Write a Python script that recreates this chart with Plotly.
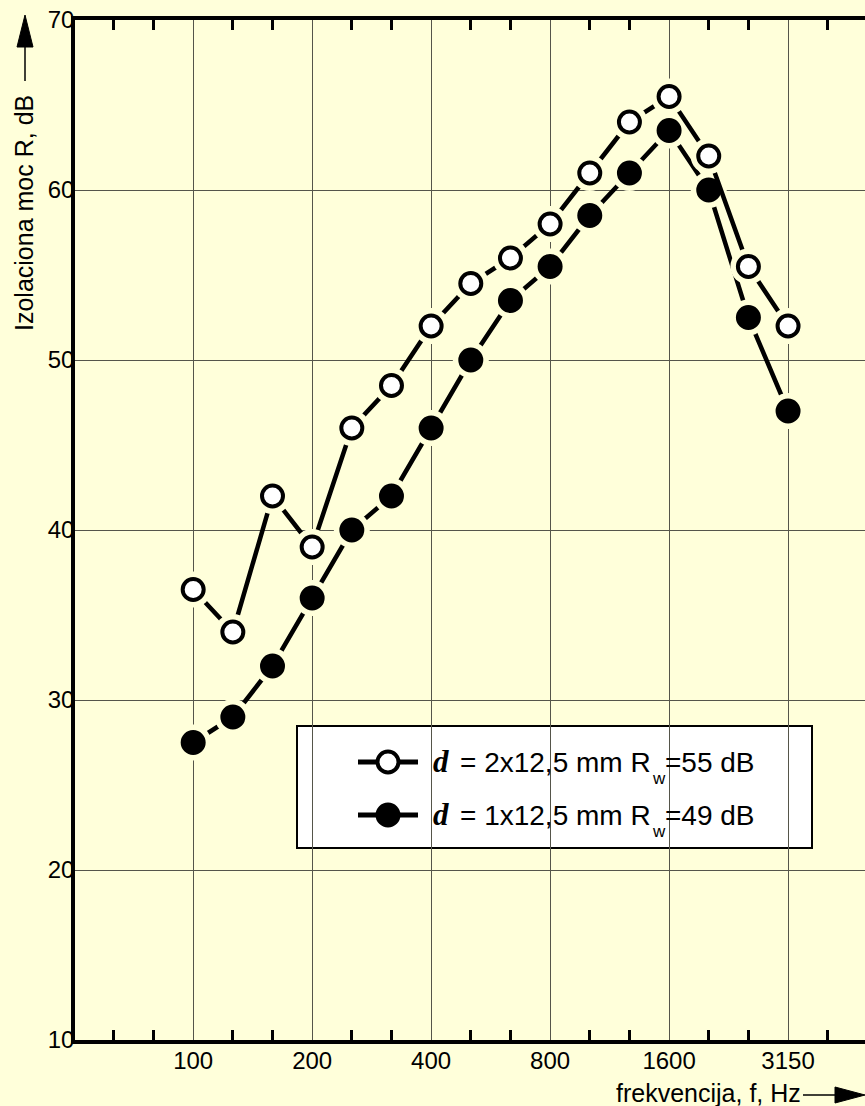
import plotly.graph_objects as go

# One-third octave bands (Hz) and measured sound reduction index R (dB)
bands = [100, 125, 160, 200, 250, 315, 400, 500, 630, 800, 1000, 1250, 1600, 2000, 2500, 3150]
r_double = [36.5, 34, 42, 39, 46, 48.5, 52, 54.5, 56, 58, 61, 64, 65.5, 62, 55.5, 52]
r_single = [27.5, 29, 32, 36, 40, 42, 46, 50, 53.5, 55.5, 58.5, 61, 63.5, 60, 52.5, 47]

label_bands = [100, 200, 400, 800, 1600, 3150]
y_ticks = [10, 20, 30, 40, 50, 60, 70]

# legend entries: thickness text and weighted index Rw
legend_thickness = ["2x12,5 mm", "1x12,5 mm"]
legend_rw = [55, 49]

BG = "#FFFFDA"
FONT = "Liberation Sans"
SERIF = "Liberation Serif"

xpos = list(range(len(bands)))
label_pos = [bands.index(b) for b in label_bands]
minor_pos = [i for i in range(-2, 17) if i % 3 != 0]

W, H = 865, 1106
ML, MT, MR, MB = 75, 20, 0, 66
PW, PH = W - ML - MR, H - MT - MB


def px(x):
    return (x - ML) / PW


def py(y):
    return 1 - (y - MT) / PH


fig = go.Figure()


def add_series(yvals, fill):
    # connecting line
    fig.add_trace(go.Scatter(x=xpos, y=yvals, mode="lines",
                             line=dict(color="black", width=4.5),
                             hoverinfo="skip", showlegend=False))
    # clearance ring that opens a small gap in the line around each point
    fig.add_trace(go.Scatter(x=xpos, y=yvals, mode="markers",
                             marker=dict(size=36, color=BG, line=dict(width=0)),
                             hoverinfo="skip", showlegend=False))
    fig.add_trace(go.Scatter(x=xpos, y=yvals, mode="markers",
                             marker=dict(size=21, color=fill,
                                         line=dict(color="black", width=4)),
                             showlegend=False))


add_series(r_single, "black")
add_series(r_double, "white")

shapes = [
    # legend frame
    dict(type="rect", xref="paper", yref="paper", x0=px(297), x1=px(812), y0=py(848), y1=py(726),
         fillcolor="white", line=dict(color="black", width=2), layer="between"),
]

LEG_ROWS = [762, 815]
LEG_FILLS = ["white", "black"]

# legend sample glyphs: short line with a circle in the middle
for yrow, fill in zip(LEG_ROWS, LEG_FILLS):
    shapes.append(dict(type="line", xref="paper", yref="paper",
                       x0=px(358), x1=px(418), y0=py(yrow), y1=py(yrow),
                       line=dict(color="black", width=5)))
    shapes.append(dict(type="circle", xref="paper", yref="paper",
                       x0=px(388 - 10.5), x1=px(388 + 10.5),
                       y0=py(yrow + 10.5), y1=py(yrow - 10.5),
                       fillcolor=fill, line=dict(color="black", width=4)))


def note(x, y, text, size, family=FONT, xanchor="left", **font_extra):
    return dict(xref="paper", yref="paper", x=px(x), y=py(y), xanchor=xanchor,
                yanchor="middle", text=text, showarrow=False, borderpad=0, borderwidth=0,
                font=dict(family=family, size=size, color="black", **font_extra))


LEG_SIZE = 28
SUB_SIZE = 17
annotations = []
for yrow, thick, rw in zip(LEG_ROWS, legend_thickness, legend_rw):
    annotations.append(note(433, yrow - 1, "d", 31, family=SERIF,
                            style="italic", weight="bold"))
    annotations.append(note(460, yrow, "= " + thick + " R", LEG_SIZE))
    annotations.append(note(652, yrow + 16, "w", SUB_SIZE))
    annotations.append(note(665, yrow, f"={rw} dB", LEG_SIZE))

annotations += [
    note(801, 1093, "frekvencija, f, Hz", 25, xanchor="right"),
    dict(xref="paper", yref="paper", x=px(24), y=py(213), xanchor="center", yanchor="middle",
         text="Izolaciona moc R, dB", showarrow=False, borderpad=0, borderwidth=0,
         textangle=-90, font=dict(family=FONT, size=25, color="black")),
]

shapes += [
    # y-axis arrow
    dict(type="line", xref="paper", yref="paper", x0=px(25), x1=px(25), y0=py(81), y1=py(45),
         line=dict(color="black", width=1.5)),
    dict(type="path", xref="paper", yref="paper",
         path=f"M {px(17)} {py(47)} L {px(33)} {py(47)} L {px(25)} {py(15)} Z",
         fillcolor="black", line=dict(color="black", width=1)),
    # x-axis arrow
    dict(type="line", xref="paper", yref="paper", x0=px(803), x1=px(838), y0=py(1095), y1=py(1095),
         line=dict(color="black", width=1.5)),
    dict(type="path", xref="paper", yref="paper",
         path=f"M {px(835)} {py(1087)} L {px(835)} {py(1103)} L {px(865)} {py(1095)} Z",
         fillcolor="black", line=dict(color="black", width=1)),
]

fig.update_layout(
    width=W, height=H,
    margin=dict(l=ML, r=MR, t=MT, b=MB),
    paper_bgcolor=BG, plot_bgcolor=BG,
    showlegend=False,
    font=dict(family=FONT, size=24, color="black"),
    xaxis=dict(range=[-2.98, 16.94], tickmode="array", tickvals=label_pos,
               ticktext=[str(b) for b in label_bands],
               showgrid=True, gridcolor="#55554a", gridwidth=1.2, zeroline=False,
               showline=True, linecolor="black", linewidth=3.5, mirror="allticks",
               ticks="", ticklen=0, ticklabelstandoff=-4,
               tickfont=dict(family=FONT, size=24, color="black"),
               minor=dict(tickmode="array", tickvals=minor_pos, ticks="inside",
                          ticklen=10, tickwidth=3, tickcolor="black", showgrid=False)),
    yaxis=dict(range=[10, 70], tickmode="array", tickvals=y_ticks,
               showgrid=True, gridcolor="#55554a", gridwidth=1.2, zeroline=False,
               showline=True, linecolor="black", linewidth=3.5, mirror=False,
               ticks="", ticklen=0, ticklabelstandoff=-8,
               tickfont=dict(family=FONT, size=24, color="black")),
    annotations=annotations,
    shapes=shapes,
)

fig.write_html("out.html")
